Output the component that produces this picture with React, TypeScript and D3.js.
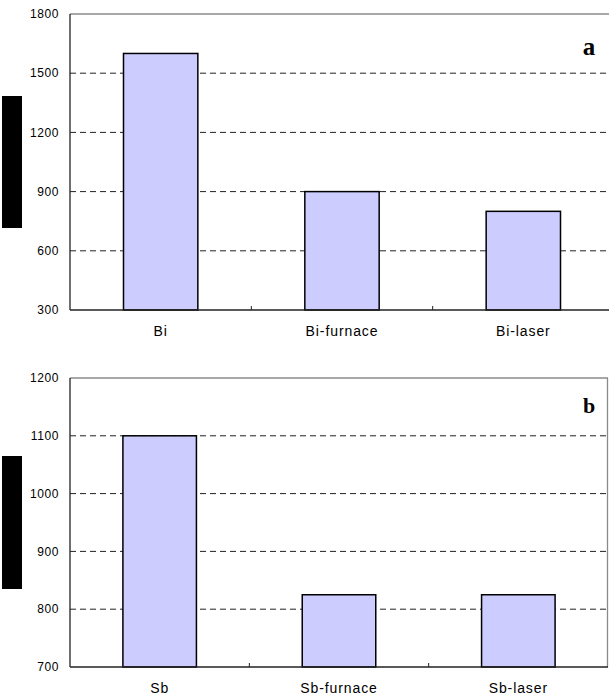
import React from "react";
import * as d3 from "d3";

// Panel a: Bi samples
const catsA = ["Bi", "Bi-furnace", "Bi-laser"];
const valsA = [1600, 900, 800];
const ticksA = [300, 600, 900, 1200, 1500, 1800];

// Panel b: Sb samples
const catsB = ["Sb", "Sb-furnace", "Sb-laser"];
const valsB = [1100, 825, 825];
const ticksB = [700, 800, 900, 1000, 1100, 1200];

const W = 609;
const H = 698;

type PanelProps = {
  cats: string[];
  vals: number[];
  ticks: number[];
  top: number;
  bottom: number;
  right: number;
  tag: string;
  tagY: number;
  tagSize: number;
  boxY: [number, number];
};

function Panel({ cats, vals, ticks, top, bottom, right, tag, tagY, tagSize, boxY }: PanelProps) {
  const left = 70;
  const y = d3
    .scaleLinear()
    .domain([ticks[0], ticks[ticks.length - 1]])
    .range([bottom, top]);
  const x = d3.scaleBand<string>().domain(cats).range([left, right]).padding(0);
  const barW = x.bandwidth() * 0.41;
  const font = "Arial, 'Liberation Sans', sans-serif";
  return (
    <g>
      {/* dashed gridlines */}
      {ticks.slice(1, -1).map((t) => (
        <line
          key={"g" + t}
          x1={left}
          x2={right}
          y1={y(t)}
          y2={y(t)}
          stroke="#222"
          strokeWidth={1}
          strokeDasharray="6,4"
        />
      ))}
      {/* frame: top and right in grey */}
      <line x1={left} x2={right} y1={top} y2={top} stroke="#8a8a8a" strokeWidth={1.3} />
      <line x1={right - 0.5} x2={right - 0.5} y1={top} y2={bottom} stroke="#8a8a8a" strokeWidth={1.3} />
      {/* bars */}
      {cats.map((c, i) => (
        <rect
          key={c}
          x={(x(c) as number) + (x.bandwidth() - barW) / 2}
          y={y(vals[i])}
          width={barW}
          height={bottom - y(vals[i])}
          fill="#CCCCFF"
          stroke="#000"
          strokeWidth={1.5}
        />
      ))}
      {/* axes */}
      <line x1={left} x2={left} y1={top} y2={bottom} stroke="#222" strokeWidth={1.3} />
      <line x1={left} x2={right} y1={bottom} y2={bottom} stroke="#222" strokeWidth={1.3} />
      {/* category separators */}
      {cats.slice(1).map((c) => (
        <line
          key={"t" + c}
          x1={x(c) as number}
          x2={x(c) as number}
          y1={bottom}
          y2={bottom - 4}
          stroke="#222"
          strokeWidth={1}
        />
      ))}
      {/* y tick labels */}
      {ticks.map((t) => (
        <text
          key={"l" + t}
          x={59}
          y={y(t)}
          dy="0.35em"
          textAnchor="end"
          fontFamily={font}
          fontSize={12}
          letterSpacing={0.6}
          fill="#000"
        >
          {t}
        </text>
      ))}
      {/* category labels */}
      {cats.map((c) => (
        <text
          key={"c" + c}
          x={(x(c) as number) + x.bandwidth() / 2}
          y={bottom + 26}
          textAnchor="middle"
          fontFamily={font}
          fontSize={14}
          letterSpacing={0.9}
          fill="#000"
        >
          {c}
        </text>
      ))}
      {/* panel tag */}
      <text
        x={589}
        y={tagY}
        textAnchor="middle"
        fontFamily="'Times New Roman', 'Liberation Serif', serif"
        fontWeight="bold"
        fontSize={tagSize}
        fill="#000"
      >
        {tag}
      </text>
      {/* axis title block */}
      <rect x={2} y={boxY[0]} width={20} height={boxY[1] - boxY[0]} fill="#000" />
    </g>
  );
}

export default function App() {
  return (
    <svg
      width={W}
      height={H}
      style={{ position: "absolute", left: 0, top: 0, background: "#fff" }}
    >
      <rect width={W} height={H} fill="#fff" />
      <Panel
        cats={catsA}
        vals={valsA}
        ticks={ticksA}
        top={14}
        bottom={310}
        right={614}
        tag="a"
        tagY={55}
        tagSize={25}
        boxY={[96, 228]}
      />
      <Panel
        cats={catsB}
        vals={valsB}
        ticks={ticksB}
        top={378}
        bottom={667}
        right={608}
        tag="b"
        tagY={413}
        tagSize={22}
        boxY={[456, 589]}
      />
    </svg>
  );
}
